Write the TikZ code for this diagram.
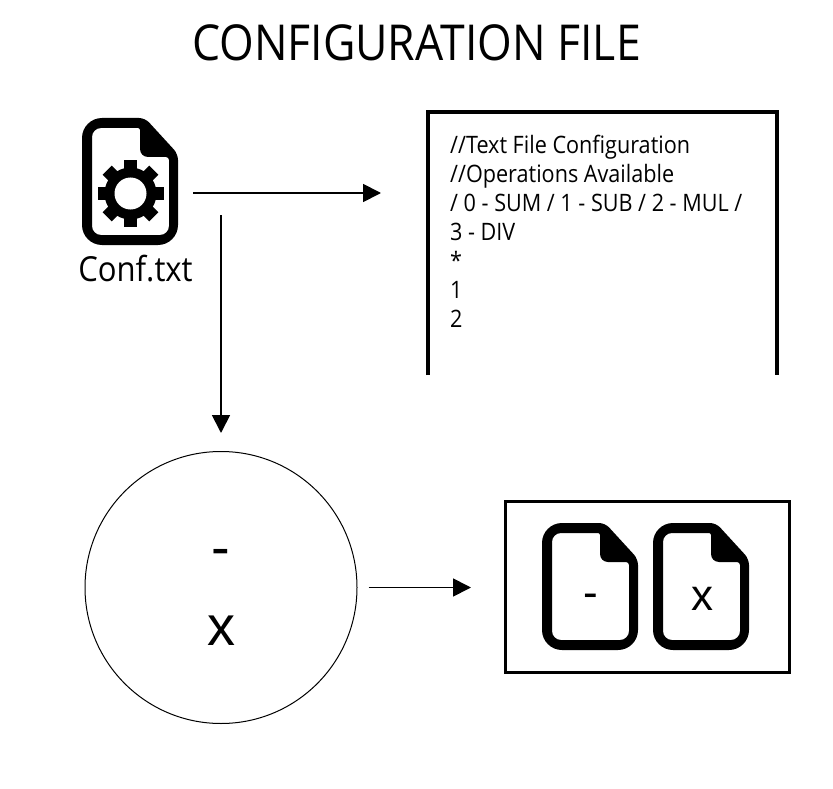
\documentclass[tikz,border=0pt]{standalone}
\usepackage{fontspec}
\setmainfont[FakeStretch=0.9]{Open Sans}
\newfontfamily\symbolfont{Liberation Sans}
\usetikzlibrary{arrows.meta}
\def\fileoutline{[rounded corners=20pt] (0,60) -- (0,0) [rounded corners=6pt] -- (63,0) -- (96,36) [rounded corners=20pt] -- (96,127) -- (0,127) -- cycle}
\def\filehollow{[rounded corners=9pt] (10,60) -- (10,10) [rounded corners=2pt] -- (58,10) [rounded corners=8pt] -- (58,39) [rounded corners=3pt] -- (87,39) [rounded corners=9pt] -- (87,117) -- (10,117) -- cycle}
\tikzset{
    flow/.style={line width=1.8pt,-{Triangle[length=18pt,width=18pt]}},
    sheet/.style={fill=black,even odd rule},
    title/.style={font=\fontsize{49.5}{49.5}\selectfont},
    caption/.style={font=\fontsize{34.5}{34.5}\selectfont},
    listing/.style={font=\fontsize{24}{29}\selectfont,align=left,inner sep=0pt,anchor=north west},
    bigsign/.style={font=\symbolfont\fontsize{56}{56}\selectfont,inner sep=0pt},
    smallsign/.style={font=\symbolfont\fontsize{44}{44}\selectfont,inner sep=0pt}
}

\begin{document}
\begin{tikzpicture}[x=1pt,y=-1pt]
        \useasboundingbox (0,0) rectangle (833,789);

        \node[title] (heading) at (416.5,43) {CONFIGURATION FILE};

        % gear file
        \begin{scope}[shift={(82,118)}]
            \fill[sheet] \fileoutline \filehollow;
        \end{scope}
        \begin{scope}[shift={(130.5,193.5)}]
            \foreach \ang in {0,45,...,315}
                \fill[rotate=\ang] (-6.5,-33) rectangle (6.5,0);
            \fill (0,0) circle (26pt);
            \fill[white] (0,0) circle (16pt);
        \end{scope}
        \node[caption] (conflabel) at (135.5,269) {Conf.txt};

        % listing
        \node[minimum width=349pt,minimum height=263pt,inner sep=0pt] (codebox) at (602.5,243.5) {};
        \draw[line width=4.5pt] (codebox.south west) -- (codebox.north west) -- (codebox.north east) -- (codebox.south east);
        \node[listing] (codetext) at (450,135) {//Text File Configuration\\//Operations Available\\/ 0 - SUM / 1 - SUB / 2 - MUL /\\3 - DIV\\*\\1\\2};

        % operations
        \node[circle,draw,line width=1pt,minimum size=272pt,inner sep=0pt] (opcircle) at (221,587.5) {};
        \node[bigsign] (opminus) at (221,558) {-};
        \node[bigsign] (optimes) at (221,631) {x};

        % result files
        \node[draw,line width=3pt,minimum width=284pt,minimum height=171pt,inner sep=0pt] (resultbox) at (647.5,586.5) {};
        \begin{scope}[shift={(542,523)}]
            \fill[sheet] \fileoutline \filehollow;
        \end{scope}
        \begin{scope}[shift={(653,523)}]
            \fill[sheet] \fileoutline \filehollow;
        \end{scope}
        \node[smallsign] (fileminus) at (591,601) {-};
        \node[smallsign] (filetimes) at (702,599) {x};

        \coordinate (confright) at (193,193);
        \coordinate (codein) at (381,193);
        \coordinate (confdown) at (221,215);
        \draw[flow] (confright) -- (codein);
        \draw[flow,shorten >=18pt] (confdown) -- (opcircle.north);
        \draw[flow,shorten <=11pt,shorten >=33pt] (opcircle.east) -- (opcircle.east -| resultbox.west);
    \end{tikzpicture}
\end{document}
